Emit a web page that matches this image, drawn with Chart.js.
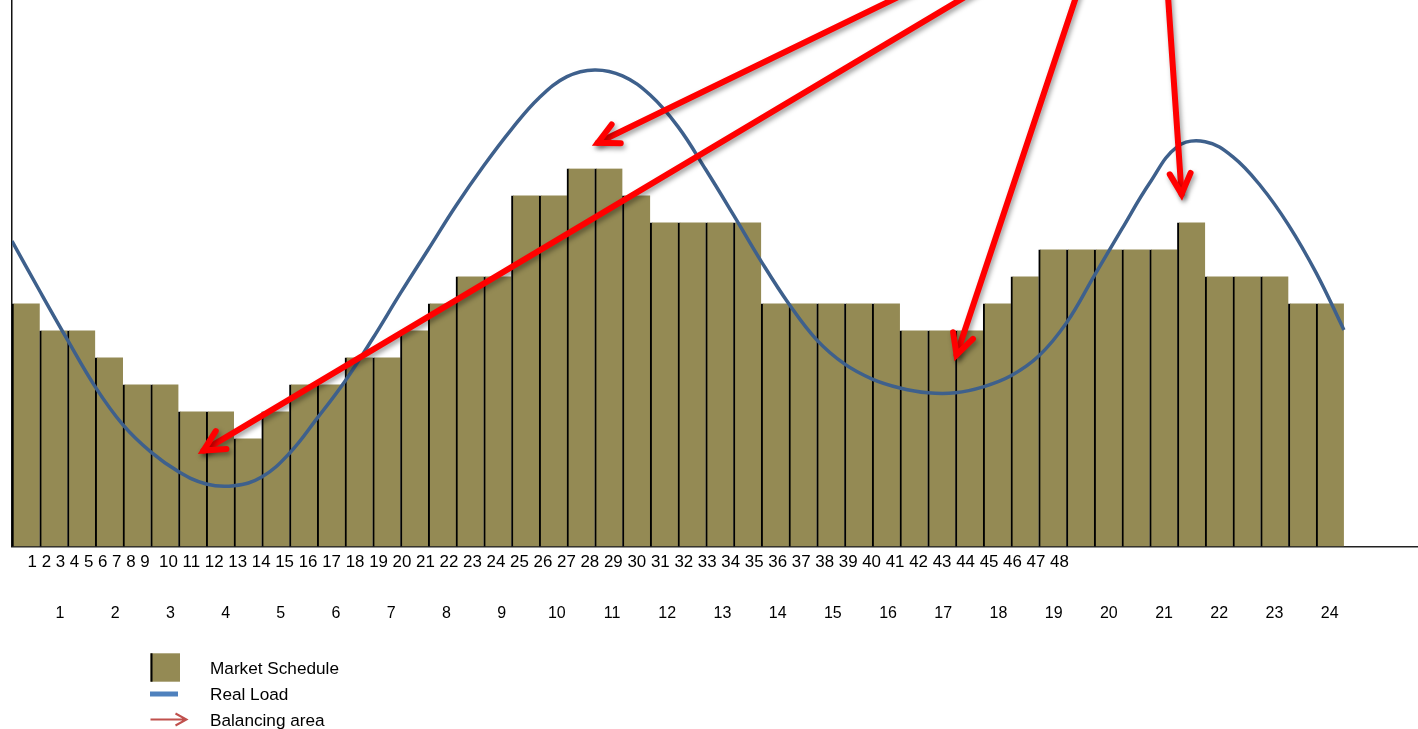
<!DOCTYPE html>
<html>
<head>
<meta charset="utf-8">
<title>Market Schedule vs Real Load</title>
<script src="https://cdn.jsdelivr.net/npm/chart.js@4.4.1/dist/chart.umd.min.js"></script>
<style>
  html, body { margin: 0; padding: 0; background: #ffffff; overflow: hidden; }
  #wrap { width: 1418px; height: 729px; position: relative; }
</style>
</head>
<body>
<div id="wrap"><canvas id="chart" width="1418" height="729"></canvas></div>
<script>
// Half-hour settlement slots (first label row) and hours of the day (second row)
const slotLabels = ['1','2','3','4','5','6','7','8','9','10','11','12','13','14','15','16',
  '17','18','19','20','21','22','23','24','25','26','27','28','29','30','31','32',
  '33','34','35','36','37','38','39','40','41','42','43','44','45','46','47','48'];
const hourLabels = [1,2,3,4,5,6,7,8,9,10,11,12,13,14,15,16,17,18,19,20,21,22,23,24];

// Scheduled energy per half-hour slot
const marketSchedule = [9,8,8,7,6,6,5,5,4,5,6,6,7,7,8,9,10,10,13,13,14,14,13,12,
  12,12,12,9,9,9,9,9,8,8,8,9,10,11,11,11,11,11,12,10,10,10,9,9];

// Metered load at each slot boundary (0 .. 48)
const realLoad = [11.31,9.46,7.65,5.91,4.50,3.50,2.77,2.31,2.25,2.57,3.45,4.75,6.12,7.70,9.38,11.00,
  12.62,14.10,15.45,16.62,17.40,17.65,17.43,16.72,15.55,13.96,12.28,10.56,8.98,7.65,6.76,6.20,
  5.87,5.69,5.69,5.91,6.32,7.05,8.28,10.02,11.76,13.46,14.81,14.99,14.43,13.35,11.91,10.13,8.02];

// Balancing-area call-outs: tail and tip, in slot / load units
const arrowTails = [[33.20,20.98],[35.37,20.98],[38.55,20.98],[41.62,20.98]];
const arrowTips  = [[21.11,14.95],[6.90,3.55],[34.04,7.09],[42.15,13.05]];

const legendItems = ['Market Schedule','Real Load','Balancing area'];

const FONT = '"Liberation Sans", Arial, Helvetica, sans-serif';
const OLIVE = '#948A54';
const LOAD_BLUE = '#3E608C';
const ARROW_RED = '#FF0000';

const datasets = [
  {
    type: 'bar',
    label: legendItems[0],
    data: marketSchedule.map((v, i) => ({ x: i + 0.5, y: v })),
    backgroundColor: OLIVE,
    borderColor: '#000000',
    borderWidth: { left: 2, right: 0, top: 0, bottom: 0 },
    borderSkipped: false,
    barPercentage: 1,
    categoryPercentage: 1,
    order: 3
  },
  {
    type: 'line',
    label: legendItems[1],
    data: realLoad.map((v, k) => ({ x: k, y: v })),
    borderColor: LOAD_BLUE,
    borderWidth: 3.5,
    pointRadius: 0,
    fill: false,
    tension: 0.4,
    order: 2
  }
];

arrowTails.forEach((t, i) => {
  datasets.push({
    type: 'line',
    label: legendItems[2],
    isArrow: true,
    data: [{ x: t[0], y: t[1] }, { x: arrowTips[i][0], y: arrowTips[i][1] }],
    borderColor: ARROW_RED,
    borderWidth: 6,
    borderCapStyle: 'round',
    pointRadius: 0,
    fill: false,
    order: 1
  });
});

// Arrowheads with a soft drop shadow, the label row of slots, and the legend
const callouts = {
  id: 'callouts',
  beforeDatasetDraw(chart, args) {
    const ds = chart.data.datasets[args.index];
    if (!ds.isArrow) return;
    const ctx = chart.ctx;
    ctx.save();
    ctx.shadowColor = 'rgba(0,0,0,0.38)';
    ctx.shadowBlur = 5;
    ctx.shadowOffsetX = 2;
    ctx.shadowOffsetY = 3;
  },
  afterDatasetDraw(chart, args) {
    const ds = chart.data.datasets[args.index];
    if (!ds.isArrow) return;
    const ctx = chart.ctx;
    const pts = args.meta.data;
    const tail = pts[0], tip = pts[1];
    const ang = Math.atan2(tail.y - tip.y, tail.x - tip.x);
    const len = 23, spread = 27 * Math.PI / 180;
    ctx.beginPath();
    ctx.moveTo(tip.x + len * Math.cos(ang + spread), tip.y + len * Math.sin(ang + spread));
    ctx.lineTo(tip.x, tip.y);
    ctx.lineTo(tip.x + len * Math.cos(ang - spread), tip.y + len * Math.sin(ang - spread));
    ctx.strokeStyle = ds.borderColor;
    ctx.lineWidth = 6;
    ctx.lineCap = 'round';
    ctx.lineJoin = 'miter';
    ctx.stroke();
    ctx.restore();
  },
  afterDraw(chart) {
    const ctx = chart.ctx;
    const xs = chart.scales.x;
    ctx.save();
    // slot numbers typed as one running line under the bars
    ctx.font = '16.9px ' + FONT;
    ctx.fillStyle = '#000000';
    ctx.textAlign = 'left';
    ctx.textBaseline = 'alphabetic';
    const gap = ctx.measureText(' ').width;
    let cx = xs.left + 15.6;
    const baseY = xs.top + 20.8;
    slotLabels.forEach((t, i) => {
      if (i > 0 && t.length !== slotLabels[i - 1].length) cx += gap;
      ctx.fillText(t, cx, baseY);
      cx += ctx.measureText(t).width + gap;
    });

    // legend
    const lx = 150.5, tx = 210;
    const rows = [667.5, 694, 719.5];
    ctx.fillStyle = OLIVE;
    ctx.fillRect(lx, rows[0] - 14.2, 29.5, 28.4);
    ctx.fillStyle = '#000000';
    ctx.fillRect(lx, rows[0] - 14.2, 2, 28.4);

    ctx.fillStyle = '#4F81BD';
    ctx.fillRect(lx - 0.5, rows[1] - 2.5, 28, 5);

    ctx.strokeStyle = '#C0504D';
    ctx.lineWidth = 2;
    ctx.lineCap = 'butt';
    ctx.beginPath();
    ctx.moveTo(lx, rows[2]);
    ctx.lineTo(lx + 36, rows[2]);
    ctx.moveTo(lx + 25, rows[2] - 6);
    ctx.lineTo(lx + 36, rows[2]);
    ctx.lineTo(lx + 25, rows[2] + 6);
    ctx.stroke();

    ctx.font = '17.2px ' + FONT;
    ctx.fillStyle = '#000000';
    legendItems.forEach((t, i) => ctx.fillText(t, tx, rows[i] + 6));
    ctx.restore();
  }
};

new Chart(document.getElementById('chart'), {
  type: 'bar',
  data: { datasets },
  options: {
    responsive: false,
    devicePixelRatio: 1,
    animation: false,
    events: [],
    layout: { autoPadding: false, padding: { left: 12, right: 0, top: 0, bottom: 102.8 } },
    plugins: {
      legend: { display: false },
      tooltip: { enabled: false }
    },
    scales: {
      x: {
        type: 'linear',
        position: 'bottom',
        weight: 0,
        min: 0,
        max: 50.67,
        offset: false,
        grid: { display: false, drawTicks: false },
        ticks: { display: false },
        border: { display: true, color: '#222222', width: 1.5 }
      },
      hour: {
        type: 'linear',
        position: 'bottom',
        weight: 1,
        min: 0.1304,
        max: 25.6,
        offset: false,
        grid: { display: false, drawTicks: true, tickLength: 54.6 },
        border: { display: false },
        afterBuildTicks: (scale) => { scale.ticks = hourLabels.map(v => ({ value: v })); },
        ticks: {
          autoSkip: false,
          maxRotation: 0,
          padding: 3,
          color: '#000000',
          font: { family: FONT, size: 16 }
        }
      },
      y: {
        type: 'linear',
        position: 'left',
        min: 0,
        max: 20.24,
        grid: { display: false, drawTicks: false },
        ticks: { display: false },
        border: { display: true, color: '#111111', width: 1.5 }
      }
    }
  },
  plugins: [callouts]
});
</script>
</body>
</html>
